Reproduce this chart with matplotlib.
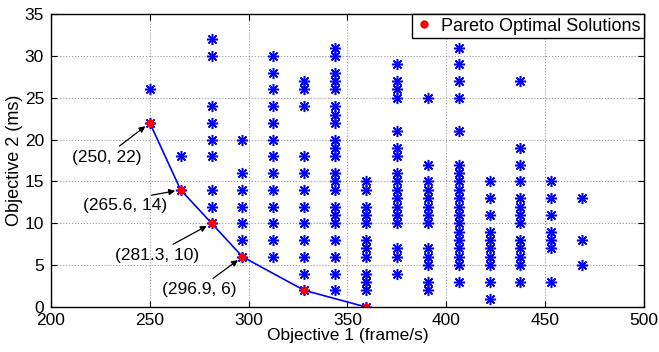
import numpy as np
import matplotlib
matplotlib.use("Agg")
import matplotlib.pyplot as plt

plt.rcParams['font.family'] = ['Liberation Sans', 'DejaVu Sans']

# throughput levels (frame/s) and the latency values (ms) found at each
obj1_levels = [250, 265.6, 281.3, 296.9, 312.5, 328.1, 343.8, 359.4,
               375, 390.6, 406.3, 421.9, 437.5, 453.1, 468.8]
obj2_sets = [
    [26, 22],
    [18, 14],
    [32, 30, 24, 22, 20, 18, 14, 12, 10],
    [20, 16, 14, 12, 10, 8, 6],
    [30, 28, 26, 24, 22, 20, 18, 16, 14, 12, 10, 8, 6],
    [27, 26, 24, 18, 16, 14, 12, 10, 8, 6, 4, 2],
    [31, 30, 28, 27, 26, 24, 23, 22, 20, 19, 18, 16, 15, 14, 12, 11, 10, 8, 6, 4, 2],
    [15, 14, 12, 11, 10, 8, 7, 6, 4, 3, 2, 0],
    [29, 27, 26, 25, 21, 19, 18, 16, 15, 14, 13, 12, 11, 10, 7, 6, 4],
    [25, 17, 15, 14, 13, 12, 11, 10, 7, 6, 5, 3, 2],
    [31, 29, 27, 25, 21, 17, 16, 15, 14, 13, 12, 11, 10, 9, 8, 7, 6, 5, 3],
    [15, 13, 11, 9, 8, 7, 6, 5, 3, 1],
    [27, 19, 17, 15, 13, 12, 11, 10, 8, 7, 6, 5, 3],
    [15, 13, 11, 9, 8, 7, 3],
    [13, 8, 5],
]

pareto_x = [250, 265.6, 281.3, 296.9, 328.1, 359.4]
pareto_y = [22, 14, 10, 6, 2, 0]

# labelled pareto points and where their labels sit
label_pts = [(250, 22), (265.6, 14), (281.3, 10), (296.9, 6)]
label_pos = [(228, 17.9), (237.5, 12.1), (253.5, 6.2), (275, 2.1)]

all_x = np.concatenate([[x] * len(ys) for x, ys in zip(obj1_levels, obj2_sets)])
all_y = np.concatenate(obj2_sets)

fig = plt.figure(figsize=(6.59, 3.52), dpi=100)
ax = fig.add_axes([0.0774, 0.1278, 0.8996, 0.8322])

ax.plot(all_x, all_y, linestyle='none', marker=(8, 2, 0), markersize=8,
        markeredgewidth=1.1, color='#0000ff')
ax.plot(pareto_x, pareto_y, '-', color='#0000ff', linewidth=1.2)
ax.plot(pareto_x, pareto_y, 'o', color='red', markersize=5, linestyle='none',
        label='Pareto Optimal Solutions')

for (px, py), (tx, ty) in zip(label_pts, label_pos):
    ax.annotate('(%g, %g)' % (px, py), xy=(px, py), xytext=(tx, ty),
                ha='center', va='center', fontsize=12.5,
                arrowprops=dict(arrowstyle='-|>', color='black', lw=0.9,
                                shrinkA=1, shrinkB=4, mutation_scale=9,
                                relpos=(0.62, 1.0)))

ax.set_xlim(200, 500)
ax.set_ylim(0, 35)
ax.set_xticks(np.arange(200, 501, 50))
ax.set_yticks(np.arange(0, 36, 5))
ax.grid(True, linestyle=':', color='#999999', linewidth=0.8)
ax.tick_params(direction='in', top=True, right=True, labelsize=12.5, length=4)
ax.tick_params(axis='x', pad=4)
ax.tick_params(axis='y', pad=5)
for s in ax.spines.values():
    s.set_linewidth(1.0)
ax.set_xlabel('Objective 1 (frame/s)', fontsize=12.5, labelpad=0)
ax.set_ylabel('Objective 2 (ms)', fontsize=13, labelpad=1)

leg = ax.legend(loc='upper right', fontsize=13, borderaxespad=0, fancybox=False,
                edgecolor='black', framealpha=1, handlelength=1.0,
                handletextpad=0.4, borderpad=0.2, markerscale=1.0)
leg.get_frame().set_linewidth(1.0)

fig.savefig('out.png', dpi=100)
